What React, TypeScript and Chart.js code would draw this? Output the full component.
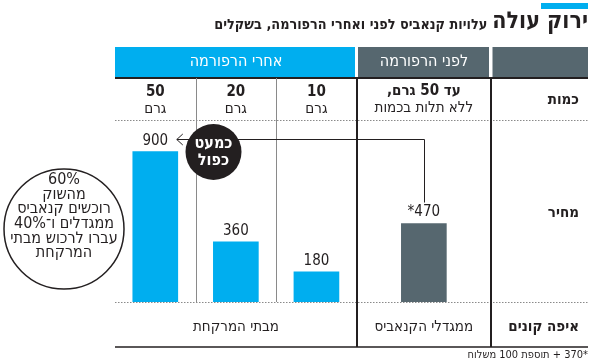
import React, { useEffect, useRef } from 'react';
import { Chart, registerables } from 'chart.js';

Chart.register(...registerables);

// ---- data ----
const afterQty = ['50', '20', '10'];
const unitLabel = 'גרם';
const afterPrices = [900, 360, 180];
const beforePrice = 470;
const beforePriceLabel = '*470';
const beforeQtyBold = 'עד 50 גרם,';
const beforeQtyText = 'ללא תלות בכמות';
const rowLabels = ['כמות', 'מחיר', 'איפה קונים'];
const headers = ['אחרי הרפורמה', 'לפני הרפורמה'];
const whereBuy = ['מבתי המרקחת', 'ממגדלי הקנאביס'];
const title = 'ירוק עולה';
const subtitle = 'עלויות קנאביס לפני ואחרי הרפורמה, בשקלים';
const footnote = '*370 + תוספת 100 משלוח';
const badge = ['כמעט', 'כפול'];
const circleNote = ['60%', 'מהשוק', 'רוכשים קנאביס', 'ממגדלים ו־40%', 'עברו לרכוש מבתי', 'המרקחת'];

// ---- style ----
const CYAN = '#00aeef';
const SLATE = '#56676f';
const INK = '#231f20';
const FONT = '"Liberation Sans Narrow", "DejaVu Sans Condensed", "Liberation Sans", sans-serif';
const colUnits = [3, 3, 3, 5];

export default function App() {
  const ref = useRef<HTMLCanvasElement>(null);

  useEffect(() => {
    const canvas = ref.current;
    if (!canvas) return;
    const edges: number[] = [0];
    colUnits.forEach((u) => edges.push(edges[edges.length - 1] + u));
    const centers = colUnits.map((u, i) => edges[i] + u / 2);
    const values = [...afterPrices, beforePrice];
    const labels = [...afterPrices.map(String), beforePriceLabel];
    const data = values.map((v, i) => ({ x: centers[i], y: v }));

    const text = (ctx: CanvasRenderingContext2D, s: string, x: number, y: number, font: string, color = INK, align: CanvasTextAlign = 'center', dir: CanvasDirection = 'rtl') => {
      ctx.save();
      ctx.font = font;
      ctx.fillStyle = color;
      ctx.textAlign = align;
      ctx.textBaseline = 'middle';
      ctx.direction = dir;
      ctx.fillText(s, x, y);
      ctx.restore();
    };
    const line = (ctx: CanvasRenderingContext2D, x1: number, y1: number, x2: number, y2: number, w: number, color: string, dash: number[] = []) => {
      ctx.save();
      ctx.beginPath();
      ctx.lineWidth = w;
      ctx.strokeStyle = color;
      ctx.setLineDash(dash);
      ctx.moveTo(x1, y1);
      ctx.lineTo(x2, y2);
      ctx.stroke();
      ctx.restore();
    };

    const tablePlugin = {
      id: 'table',
      beforeDatasetsDraw(chart: any) {
        const ctx: CanvasRenderingContext2D = chart.ctx;
        const xs = chart.scales.x;
        const ca = chart.chartArea;
        const px = edges.map((e) => Math.round(xs.getPixelForValue(e)));
        const tableRight = 588;
        const headTop = 47, headBot = 77, lineTop = 78, qtyLine = 120.5, baseLine = ca.bottom, bottomLine = 347;

        // title
        const titleFont = `bold 23px ${FONT}`;
        ctx.save();
        ctx.fillStyle = CYAN;
        ctx.fillRect(541, 3, tableRight - 541, 6);
        ctx.font = titleFont;
        ctx.direction = 'rtl';
        const tw = ctx.measureText(title).width;
        ctx.restore();
        text(ctx, title, tableRight, 22, titleFont, INK, 'right');
        text(ctx, subtitle, tableRight - tw - 5, 25, `bold 14.3px ${FONT}`, INK, 'right');

        // headers
        ctx.save();
        ctx.fillStyle = CYAN;
        ctx.fillRect(px[0], headTop, px[3] - px[0] - 2, headBot - headTop);
        ctx.fillStyle = SLATE;
        ctx.fillRect(px[3] + 1, headTop, px[4] - px[3] - 3, headBot - headTop);
        ctx.fillRect(px[4] + 1.5, headTop, tableRight - px[4] - 1.5, headBot - headTop);
        ctx.restore();
        text(ctx, headers[0], (px[0] + px[3]) / 2, 62, `16px ${FONT}`, '#ffffff');
        text(ctx, headers[1], (px[3] + px[4]) / 2, 62, `16px ${FONT}`, '#ffffff');

        // grid lines
        line(ctx, px[0], lineTop, tableRight, lineTop, 2, INK);
        line(ctx, px[0], qtyLine, tableRight, qtyLine, 1, '#8a8a8a', [1.5, 1.5]);
        line(ctx, px[0], baseLine + 0.5, tableRight, baseLine + 0.5, 1, '#8a8a8a', [1.5, 1.5]);
        line(ctx, px[0], bottomLine, tableRight, bottomLine, 1.5, INK);
        line(ctx, px[1] + 0.5, lineTop, px[1] + 0.5, baseLine, 1, '#8a8a8a');
        line(ctx, px[2] + 0.5, lineTop, px[2] + 0.5, baseLine, 1, '#8a8a8a');
        line(ctx, px[3], lineTop, px[3], bottomLine, 2, INK);
        line(ctx, px[4], lineTop, px[4], bottomLine, 2, INK);

        // row labels
        const labelX = 579;
        text(ctx, rowLabels[0], labelX, 100, `bold 15px ${FONT}`, INK, 'right');
        text(ctx, rowLabels[1], labelX, 213, `bold 15px ${FONT}`, INK, 'right');
        text(ctx, rowLabels[2], labelX, 327, `bold 15px ${FONT}`, INK, 'right');

        // quantities
        afterQty.forEach((q, i) => {
          const cx = xs.getPixelForValue(centers[i]);
          text(ctx, q, cx, 92, `bold 15px ${FONT}`, INK, 'center', 'ltr');
          text(ctx, unitLabel, cx, 109, `15px ${FONT}`);
        });
        const bcx = xs.getPixelForValue(centers[3]);
        text(ctx, beforeQtyBold, bcx, 91, `bold 15px ${FONT}`);
        text(ctx, beforeQtyText, bcx, 108, `15px ${FONT}`);

        // where to buy
        text(ctx, whereBuy[0], (px[0] + px[3]) / 2, 327, `15px ${FONT}`);
        text(ctx, whereBuy[1], bcx, 327, `15px ${FONT}`);

        // footnote
        text(ctx, footnote, tableRight, 355, `11px ${FONT}`, INK, 'right');

        // left circle note
        ctx.save();
        ctx.beginPath();
        ctx.arc(64, 229, 60, 0, Math.PI * 2);
        ctx.fillStyle = '#ffffff';
        ctx.fill();
        ctx.lineWidth = 1.5;
        ctx.strokeStyle = INK;
        ctx.stroke();
        ctx.restore();
        circleNote.forEach((s, i) => text(ctx, s, 64, 180 + i * 14.6, `16px ${FONT}`));
      },
      afterDatasetsDraw(chart: any) {
        const ctx: CanvasRenderingContext2D = chart.ctx;
        const meta = chart.getDatasetMeta(0);
        const bars = meta.data;
        bars.forEach((b: any, i: number) => {
          text(ctx, labels[i], b.x, b.y - 11, `15px ${FONT}`, INK, 'center', 'ltr');
        });
        // arrow from 470 to 900
        const b900 = bars[0];
        const b470 = bars[3];
        const yArrow = Math.round(b900.y - 12.5) + 0.5;
        const tipX = b900.x + b900.width / 2 - 1;
        const vx = Math.round(b470.x) + 0.5;
        ctx.save();
        ctx.strokeStyle = INK;
        ctx.lineWidth = 1;
        ctx.beginPath();
        ctx.moveTo(vx, b470.y - 21);
        ctx.lineTo(vx, yArrow);
        ctx.lineTo(tipX, yArrow);
        ctx.stroke();
        ctx.beginPath();
        ctx.moveTo(tipX + 6, yArrow - 5.5);
        ctx.lineTo(tipX, yArrow);
        ctx.lineTo(tipX + 6, yArrow + 5.5);
        ctx.stroke();
        ctx.restore();
        // badge circle
        ctx.save();
        ctx.beginPath();
        ctx.arc(213.5, 152, 28, 0, Math.PI * 2);
        ctx.fillStyle = INK;
        ctx.fill();
        ctx.restore();
        text(ctx, badge[0], 213.5, 144, `bold 16px ${FONT}`, '#ffffff');
        text(ctx, badge[1], 213.5, 161, `bold 16px ${FONT}`, '#ffffff');
      },
    };

    const chart = new Chart(canvas, {
      type: 'bar',
      data: {
        datasets: [
          {
            data: data as any,
            backgroundColor: [CYAN, CYAN, CYAN, SLATE],
            borderWidth: 0,
            barThickness: 45,
          },
        ],
      },
      options: {
        responsive: false,
        animation: false,
        layout: { padding: { left: 115, right: 99, top: 135, bottom: 61 } },
        scales: {
          x: { type: 'linear', min: 0, max: edges[edges.length - 1], display: false, offset: false },
          y: { min: 0, max: 1000, display: false },
        },
        plugins: { legend: { display: false }, tooltip: { enabled: false } },
      },
      plugins: [tablePlugin],
    });
    return () => chart.destroy();
  }, []);

  return (
    <div style={{ position: 'absolute', left: 0, top: 0, width: 590, height: 363, background: '#ffffff' }}>
      <canvas ref={ref} width={590} height={363} style={{ display: 'block', width: 590, height: 363 }} />
    </div>
  );
}
